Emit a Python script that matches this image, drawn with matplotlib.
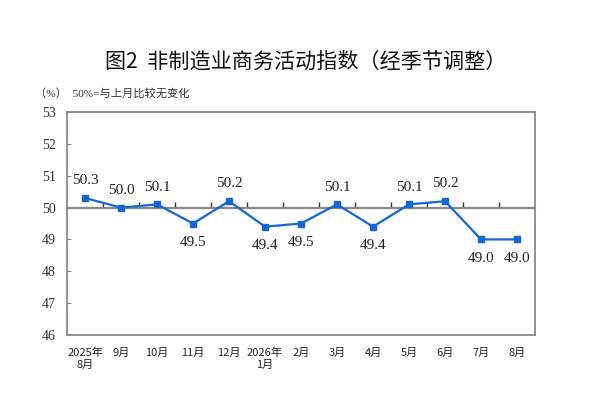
import matplotlib
matplotlib.use('Agg')
import matplotlib.pyplot as plt
import numpy as np

months = ['2025年\n8月', '9月', '10月', '11月', '12月', '2026年\n1月', '2月',
          '3月', '4月', '5月', '6月', '7月', '8月']
pmi = [50.3, 50.0, 50.1, 49.5, 50.2, 49.4, 49.5, 50.1, 49.4, 50.1, 50.2, 49.0, 49.0]
yticks = [46, 47, 48, 49, 50, 51, 52, 53]

serif = ['Liberation Serif', 'Noto Sans CJK SC']
cjk = ['Noto Sans CJK SC', 'DejaVu Sans']
blue = '#1467D2'
gray = '#888888'

fig = plt.figure(figsize=(6, 4.08), dpi=100)
ax = fig.add_axes([0.1117, 0.1789, 0.78, 0.5466])

x = np.arange(len(pmi))
ax.plot(x, pmi, color=blue, lw=1.6, marker='s', ms=4.5, zorder=3)

for xi, v in zip(x, pmi):
    if v < 50:
        ax.annotate(f'{v:.1f}', (xi, v), xytext=(0, -13.5), textcoords='offset points',
                    ha='center', va='center', fontsize=11, family=serif, color='#222222')
    else:
        ax.annotate(f'{v:.1f}', (xi, v), xytext=(0, 12.5), textcoords='offset points',
                    ha='center', va='center', fontsize=11, family=serif, color='#222222')

ax.set_xlim(-0.5, len(pmi) - 0.5)
ax.set_ylim(46, 53)
ax.set_yticks(yticks)
ax.set_yticklabels([str(t) for t in yticks], family=serif, fontsize=10, color='#333333')
ax.tick_params(axis='y', direction='in', length=3, color=gray, pad=8)
ax.set_xticks(x)
ax.set_xticklabels(months, family=cjk, fontsize=8, color='#222222', linespacing=1.2)
ax.tick_params(axis='x', length=0, pad=9)
for sp in ax.spines.values():
    sp.set_color(gray)
    sp.set_linewidth(1.3)

# axis through 50 with ticks between months (pointing up)
sec = ax.secondary_xaxis((50 - 46) / (53 - 46))
sec.set_xticks(np.arange(0.5, len(pmi) - 1, 1.0))
sec.set_xticklabels([])
sec.tick_params(direction='out', length=4, color='#333333', width=1)
for sp in sec.spines.values():
    sp.set_color(gray)
    sp.set_linewidth(1.6)

fig.text(0.51, 0.848, '图2  非制造业商务活动指数（经季节调整）', ha='center', va='center',
         fontsize=15.2, family=cjk, color='#111111')
fig.text(0.058, 0.772, '（%）  50%=与上月比较无变化', ha='left', va='center',
         fontsize=8.1, family=serif, color='#333333')

fig.savefig('out.png', dpi=100)
